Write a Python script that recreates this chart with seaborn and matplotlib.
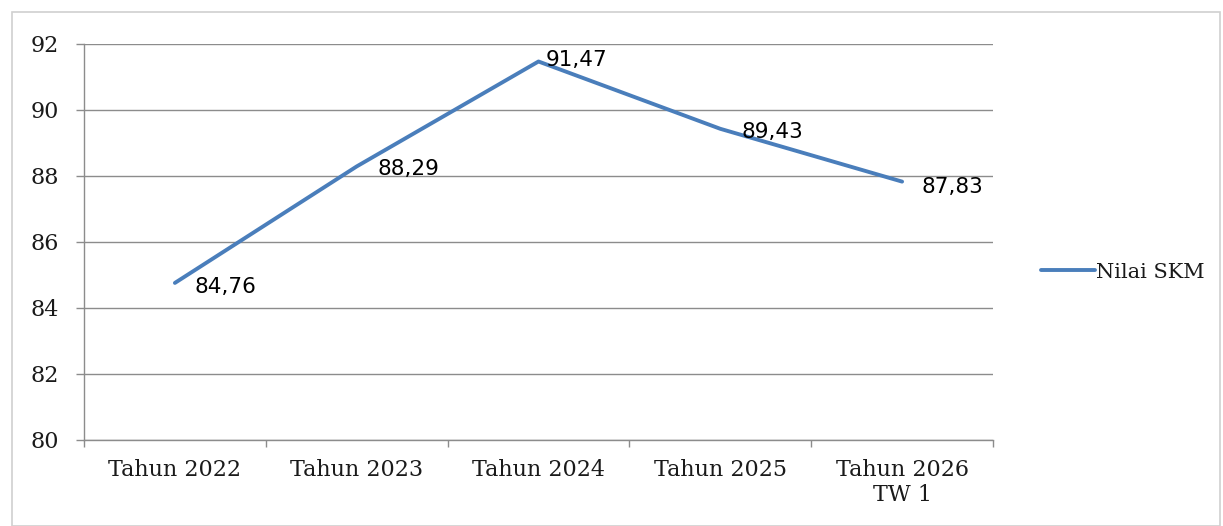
import matplotlib
matplotlib.use("Agg")
import matplotlib.pyplot as plt
import seaborn as sns
import pandas as pd
from matplotlib.patches import Rectangle

# data
categories = ["Tahun 2022", "Tahun 2023", "Tahun 2024", "Tahun 2025", "Tahun 2026\nTW 1"]
nilai_skm = [84.76, 88.29, 91.47, 89.43, 87.83]
value_labels = ["84,76", "88,29", "91,47", "89,43", "87,83"]
y_ticks = [80, 82, 84, 86, 88, 90, 92]

df = pd.DataFrame({"kategori": categories, "nilai": nilai_skm})

sns.set_style("white")
plt.rcParams["font.family"] = ["DejaVu Serif"]

line_color = "#4A7EBB"
grid_color = "#8C8C8C"
text_color = "#1A1A1A"

fig = plt.figure(figsize=(12.23, 5.26), dpi=100)
ax = fig.add_axes([84 / 1223, 1 - 440 / 526, (993 - 84) / 1223, (440 - 44) / 526])

sns.lineplot(data=df, x="kategori", y="nilai", sort=False, color=line_color,
             linewidth=2.8, label="Nilai SKM", ax=ax)

# data labels to the right of each point
offsets = [(14, -3), (15, -2), (5, 1), (15, -2), (14, -4)]
for i, (v, lab) in enumerate(zip(nilai_skm, value_labels)):
    ax.annotate(lab, (i, v), xytext=offsets[i], textcoords="offset points",
                ha="left", va="center", fontsize=15.5, color="black",
                family="DejaVu Sans")

ax.set_ylim(80, 92)
ax.set_yticks(y_ticks)
ax.set_xlim(-0.5, len(categories) - 0.5)
ax.set_xticks(range(len(categories)))
ax.set_xticklabels(categories, fontsize=16, linespacing=1.15, color=text_color)
ax.tick_params(axis="y", labelsize=16, length=6, color=grid_color, width=1,
               direction="out", left=True, pad=12, labelcolor=text_color)
ax.tick_params(axis="x", length=0, pad=14)
# category boundary ticks
ax.set_xticks([i - 0.5 for i in range(len(categories) + 1)], minor=True)
ax.tick_params(axis="x", which="minor", length=5, color=grid_color, width=1, bottom=True)

ax.yaxis.grid(True, color=grid_color, linewidth=1)
ax.set_axisbelow(True)
for s in ["top", "right"]:
    ax.spines[s].set_visible(False)
for s in ["left", "bottom"]:
    ax.spines[s].set_color(grid_color)
    ax.spines[s].set_linewidth(1)
ax.set_xlabel("")
ax.set_ylabel("")

ax.get_legend().remove()
handles, labels = ax.get_legend_handles_labels()
fig.legend(handles, labels, loc="center left", bbox_to_anchor=(1022 / 1223, 1 - 272 / 526),
           frameon=False, fontsize=15, handlelength=2.6, handletextpad=0.05,
           labelcolor=text_color)

# outer chart frame
fig.add_artist(Rectangle((12 / 1223, 0), (1220 - 12) / 1223, 1 - 12 / 526,
                         transform=fig.transFigure, fill=False,
                         edgecolor="#D0D0D0", linewidth=1.2))

fig.savefig("out.png", dpi=100, facecolor="white")
